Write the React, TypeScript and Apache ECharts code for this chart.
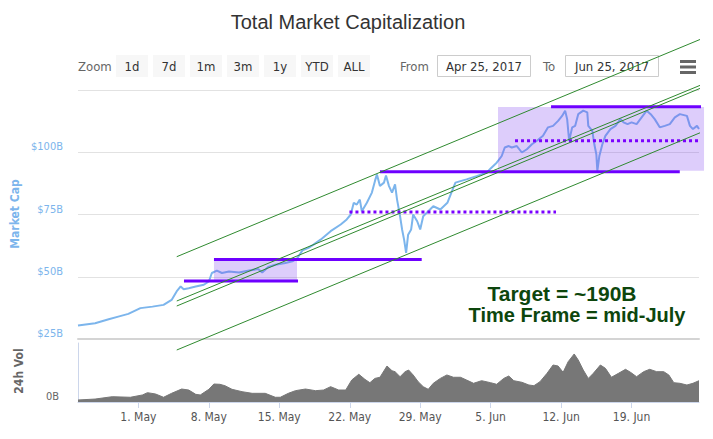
import React, { useEffect, useRef } from 'react';
import * as echarts from 'echarts';

// ---- data (days counted from Apr 25, 2017) ----
const priceDays = [
  0, 1.7, 3.05, 4, 5, 6.2, 7.4, 8.5, 9.3, 9.8,
  10.2, 10.5, 11, 11.7, 12.5, 13, 13.3, 13.8, 14.3, 15,
  16, 17, 17.9, 18.3, 18.9, 19.6, 20.6, 21.3, 21.8, 22.3,
  22.9, 23.4, 24.1, 25.1, 26.1, 26.7, 27.1, 27.4, 27.7, 28,
  28.2, 28.7, 29.2, 29.5, 29.7, 30, 30.4, 30.6, 30.9, 31.2,
  31.5, 31.7, 32, 32.2, 32.4, 32.6, 32.8, 33.1, 33.3, 33.7,
  34, 34.3, 34.8, 35.3, 36, 36.7, 37.1, 37.5, 38, 38.6,
  39.6, 40.6, 41, 41.6, 42.1, 42.4, 42.8, 43.1, 43.6, 44.1,
  44.6, 45.1, 45.6, 46.2, 46.7, 47.2, 47.7, 48.1, 48.4, 48.6,
  48.8, 49.1, 49.4, 49.7, 50.2, 50.6, 50.7, 51.1, 51.3, 51.5,
  51.6, 51.8, 52.1, 52.4, 52.9, 53.4, 53.9, 54.2, 54.6, 55,
  55.5, 56, 56.5, 56.9, 57.3, 57.8, 58.3, 58.8, 59.3, 59.8,
  60.5, 60.8, 61.1, 61.5, 61.7,
];
const priceValues = [
  30.4, 31.3, 32.9, 34.0, 35.1, 37.4, 38.0, 38.7, 40.7, 44.1,
  46.1, 45.0, 45.4, 46.1, 46.8, 48.1, 51.5, 52.5, 51.5, 52.1,
  51.7, 52.5, 53.1, 51.7, 53.9, 54.8, 55.5, 56.2, 57.5, 60.6,
  61.6, 62.9, 64.9, 68.3, 71.0, 73.0, 75.0, 79.7, 79.0, 81.0,
  76.3, 79.7, 83.8, 88.4, 91.1, 86.4, 87.8, 90.7, 86.4, 83.8,
  87.1, 81.0, 74.3, 69.0, 64.9, 59.6, 66.9, 69.0, 75.0, 72.3,
  69.0, 74.3, 76.3, 78.3, 77.0, 79.7, 83.8, 87.8, 88.4, 89.1,
  90.4, 91.8, 93.5, 95.8, 98.5, 101.9, 102.5, 101.9, 102.5, 99.9,
  101.2, 103.2, 104.6, 106.6, 110.0, 110.6, 112.6, 114.6, 116.7, 113.3,
  104.6, 110.0, 110.6, 115.3, 116.7, 116.0, 110.6, 108.6, 103.2, 99.2,
  92.5, 98.5, 103.2, 106.6, 109.3, 110.6, 113.3, 112.0, 111.3, 112.0,
  111.3, 114.0, 116.7, 115.3, 113.3, 110.0, 110.6, 111.3, 114.0, 115.3,
  114.6, 110.6, 109.3, 110.6, 109.3,
];

const volumeDays = [
  0, 1.7, 3.4, 5.2, 6.4, 6.9, 7.7, 8.5, 9.3, 10.3,
  11.0, 11.7, 12.15, 13.0, 13.5, 14.1, 14.6, 15.3, 16.3, 17.3,
  18.6, 19.6, 20.1, 20.9, 21.6, 22.6, 23.6, 24.4, 25.1, 25.9,
  26.6, 27.2, 27.9, 28.5, 29.0, 29.5, 30.0, 30.7, 31.2, 31.5,
  32.0, 32.5, 32.85, 33.3, 33.8, 34.3, 34.8, 35.3, 36.0, 36.65,
  37.3, 38.0, 38.6, 39.3, 40.1, 41.0, 41.6, 42.3, 42.8, 43.3,
  44.1, 44.8, 45.3, 45.9, 46.6, 47.2, 47.7, 48.2, 48.7, 49.3,
  49.7, 50.2, 50.7, 51.2, 51.9, 52.4, 53.0, 53.7, 54.4, 54.9,
  55.5, 56.2, 56.8, 57.5, 58.2, 58.7, 59.2, 59.8, 60.5, 61.1,
  61.7,
];
const volumeValues = [
  0.34, 0.5, 0.9, 0.8, 1.19, 1.58, 1.36, 0.8, 1.47, 2.2,
  2.03, 1.3, 1.19, 2.15, 3.05, 3.0, 2.76, 2.15, 1.75, 1.47,
  1.47, 0.8, 0.8, 1.47, 1.92, 2.2, 1.92, 2.03, 2.6, 2.03,
  2.03, 3.73, 4.7, 3.85, 3.27, 4.0, 4.19, 6.1, 5.3, 5.14,
  4.29, 5.14, 5.42, 4.58, 3.44, 2.6, 2.15, 3.17, 4.0, 4.58,
  4.19, 4.19, 3.73, 3.17, 3.61, 3.27, 3.0, 4.0, 4.4, 3.61,
  3.34, 2.88, 2.76, 3.44, 4.86, 6.27, 6.1, 5.03, 6.83, 8.14,
  7.12, 5.42, 4.0, 4.86, 6.27, 5.71, 4.19, 4.86, 5.54, 5.03,
  4.29, 5.14, 5.54, 5.14, 5.14, 4.58, 3.27, 3.17, 2.88, 3.17,
  3.61,
];

const xTickDays = [6, 13, 20, 27, 34, 41, 48, 55];
const xTickLabels = ['1. May', '8. May', '15. May', '22. May', '29. May', '5. Jun', '12. Jun', '19. Jun'];

const zoomButtons = ['1d', '7d', '1m', '3m', '1y', 'YTD', 'ALL'];
const fromDate = 'Apr 25, 2017';
const toDate = 'Jun 25, 2017';

// annotations: [startDay, endDay, value]
const supportLines = [
  [10.53, 21.86, 48.29],
  [13.51, 34.15, 56.93],
  [30.0, 59.79, 92.19],
  [47.0, 63.09, 118.29],
];
const dottedLines = [
  [26.97, 47.49, 76.0],
  [43.42, 63.09, 104.64],
];
// [day1, value1, day2, value2]
const boxes = [
  [13.51, 56.73, 21.76, 48.29],
  [41.73, 118.17, 62.2, 92.59],
];
const channelLines = [
  [9.81, 58.05, 63.09, 147.45],
  [9.81, 40.26, 63.09, 129.0],
  [9.81, 38.25, 63.09, 127.8],
  [9.81, 20.58, 63.09, 109.98],
];
const targetLines = ['Target = ~190B', 'Time Frame = mid-July'];

const NARROW = "'Liberation Sans Narrow','DejaVu Sans Condensed','Roboto',sans-serif";

export default function App() {
  const ref = useRef<HTMLDivElement>(null);

  useEffect(() => {
    if (!ref.current) return;
    const chart = echarts.init(ref.current, undefined, { renderer: 'svg' });

    const priceData = priceDays.map((d, i) => [d, priceValues[i]]);
    const volData = volumeDays.map((d, i) => [d, volumeValues[i]]);

    const lineSeries = (data: number[][], color: string, width: number, type: string, z: number) => ({
      type: 'line',
      xAxisIndex: 0,
      yAxisIndex: 0,
      data,
      clip: false,
      silent: true,
      symbol: 'none',
      z,
      lineStyle: { color, width, type },
      emphasis: { disabled: true },
    });

    const series: any[] = [
      {
        type: 'line',
        xAxisIndex: 0,
        yAxisIndex: 0,
        data: priceData,
        showSymbol: false,
        symbol: 'none',
        z: 2,
        lineStyle: { color: '#7cb5ec', width: 2 },
        emphasis: { disabled: true },
      },
      {
        type: 'custom',
        xAxisIndex: 0,
        yAxisIndex: 0,
        z: 3,
        silent: true,
        clip: false,
        data: boxes,
        renderItem: (params: any, api: any) => {
          const p1 = api.coord([api.value(0), api.value(1)]);
          const p2 = api.coord([api.value(2), api.value(3)]);
          return {
            type: 'rect',
            shape: { x: p1[0], y: p1[1], width: p2[0] - p1[0], height: p2[1] - p1[1] },
            style: { fill: 'rgba(125, 60, 240, 0.26)' },
          };
        },
      },
      ...supportLines.map((l) => lineSeries([[l[0], l[2]], [l[1], l[2]]], '#6e00ff', 3, 'solid', 5)),
      ...dottedLines.map((l) => lineSeries([[l[0], l[2]], [l[1], l[2]]], '#7a00ff', 3, 'dotted', 5)),
      ...channelLines.map((l) => lineSeries([[l[0], l[1]], [l[2], l[3]]], '#2f8a2f', 1, 'solid', 6)),
      {
        type: 'line',
        xAxisIndex: 1,
        yAxisIndex: 1,
        data: volData,
        symbol: 'none',
        lineStyle: { color: '#777777', width: 1 },
        areaStyle: { color: '#777777', opacity: 1 },
        emphasis: { disabled: true },
      },
    ];

    const graphics: any[] = [
      {
        type: 'text', x: 348, y: 22, z: 0,
        style: { text: 'Total Market Capitalization', fill: '#333333', font: "20px 'Liberation Sans', Arial, sans-serif", align: 'center', verticalAlign: 'middle' },
      },
      {
        type: 'text', x: 78, y: 66, z: 0,
        style: { text: 'Zoom', fill: '#666666', font: `13px ${NARROW}`, align: 'left', verticalAlign: 'middle' },
      },
      ...zoomButtons.flatMap((b, i) => [
        { type: 'rect', z: 0, shape: { x: 116 + i * 37, y: 55, width: 32, height: 22 }, style: { fill: '#f7f7f7' } },
        {
          type: 'text', z: 0, x: 132 + i * 37, y: 66,
          style: { text: b, fill: '#333333', font: `13px ${NARROW}`, align: 'center', verticalAlign: 'middle' },
        },
      ]),
      {
        type: 'text', x: 400, y: 66, z: 0,
        style: { text: 'From', fill: '#666666', font: `13px ${NARROW}`, align: 'left', verticalAlign: 'middle' },
      },
      { type: 'rect', z: 0, shape: { x: 437.5, y: 55.5, width: 93, height: 21 }, style: { fill: '#ffffff', stroke: '#cccccc', lineWidth: 1 } },
      {
        type: 'text', x: 484, y: 66, z: 0,
        style: { text: fromDate, fill: '#333333', font: `13px ${NARROW}`, align: 'center', verticalAlign: 'middle' },
      },
      {
        type: 'text', x: 543, y: 66, z: 0,
        style: { text: 'To', fill: '#666666', font: `13px ${NARROW}`, align: 'left', verticalAlign: 'middle' },
      },
      { type: 'rect', z: 0, shape: { x: 565.5, y: 55.5, width: 93, height: 21 }, style: { fill: '#ffffff', stroke: '#cccccc', lineWidth: 1 } },
      {
        type: 'text', x: 612, y: 66, z: 0,
        style: { text: toDate, fill: '#333333', font: `13px ${NARROW}`, align: 'center', verticalAlign: 'middle' },
      },
      { type: 'rect', z: 0, shape: { x: 680, y: 60, width: 16, height: 3 }, style: { fill: '#666666' } },
      { type: 'rect', z: 0, shape: { x: 680, y: 65.5, width: 16, height: 3 }, style: { fill: '#666666' } },
      { type: 'rect', z: 0, shape: { x: 680, y: 71, width: 16, height: 3 }, style: { fill: '#666666' } },
      {
        type: 'text', x: 15, y: 214, rotation: Math.PI / 2, z: 0,
        style: { text: 'Market Cap', fill: '#7cb5ec', font: `bold 12px ${NARROW}`, align: 'center', verticalAlign: 'middle' },
      },
      {
        type: 'text', x: 19, y: 371, rotation: Math.PI / 2, z: 0,
        style: { text: '24h Vol', fill: '#666666', font: `bold 12px ${NARROW}`, align: 'center', verticalAlign: 'middle' },
      },
      {
        type: 'text', x: 562, y: 293, z: 10,
        style: { text: targetLines[0], fill: '#0d460d', font: "bold 21px 'Liberation Sans', Arial, sans-serif", align: 'center', verticalAlign: 'middle' },
      },
      {
        type: 'text', x: 577, y: 315, z: 10,
        style: { text: targetLines[1], fill: '#0d460d', font: "bold 20px 'Liberation Sans', Arial, sans-serif", align: 'center', verticalAlign: 'middle' },
      },
    ];

    chart.setOption({
      animation: false,
      backgroundColor: '#ffffff',
      grid: [
        { left: 78, right: 14, top: 90, height: 249 },
        { left: 78, right: 14, top: 343, height: 59 },
      ],
      xAxis: [
        {
          type: 'value', gridIndex: 0, min: 0, max: 61.7,
          axisLabel: { show: false }, axisTick: { show: false },
          splitLine: { show: false },
          axisLine: { show: true, lineStyle: { color: '#d4d4d4', width: 2 } },
        },
        {
          type: 'value', gridIndex: 1, min: 0, max: 61.7,
          splitLine: { show: false },
          axisLine: { show: true, lineStyle: { color: '#ccd6eb', width: 1 } },
          axisTick: { show: true, customValues: xTickDays, length: 6, lineStyle: { color: '#ccd6eb' } },
          axisLabel: {
            customValues: xTickDays,
            formatter: (v: number) => {
              const i = xTickDays.indexOf(v);
              return i >= 0 ? xTickLabels[i] : '';
            },
            color: '#555555', fontSize: 12, fontFamily: NARROW, margin: 9,
          },
        },
      ],
      yAxis: [
        {
          type: 'value', gridIndex: 0, min: 25, max: 125, interval: 25,
          axisLine: { show: false }, axisTick: { show: false },
          splitLine: { show: true, lineStyle: { color: '#e2e2e2', width: 1 } },
          axisLabel: {
            formatter: (v: number) => (v === 125 ? '' : `$${v}B`),
            color: '#7cb5ec', fontSize: 11, fontFamily: NARROW,
            verticalAlign: 'bottom', margin: 15,
          },
        },
        {
          type: 'value', gridIndex: 1, min: 0, max: 10, interval: 10,
          axisLine: { show: true, lineStyle: { color: '#ccd6eb' } },
          axisTick: { show: false },
          splitLine: { show: false },
          axisLabel: {
            formatter: (v: number) => (v === 0 ? '0B' : ''),
            color: '#666666', fontSize: 11, fontFamily: NARROW,
            verticalAlign: 'bottom', margin: 19,
          },
        },
      ],
      graphic: { elements: graphics },
      series,
    });

    return () => chart.dispose();
  }, []);

  return (
    <div
      ref={ref}
      style={{ position: 'fixed', left: 0, top: 0, width: 713, height: 439, background: '#fff' }}
    />
  );
}
